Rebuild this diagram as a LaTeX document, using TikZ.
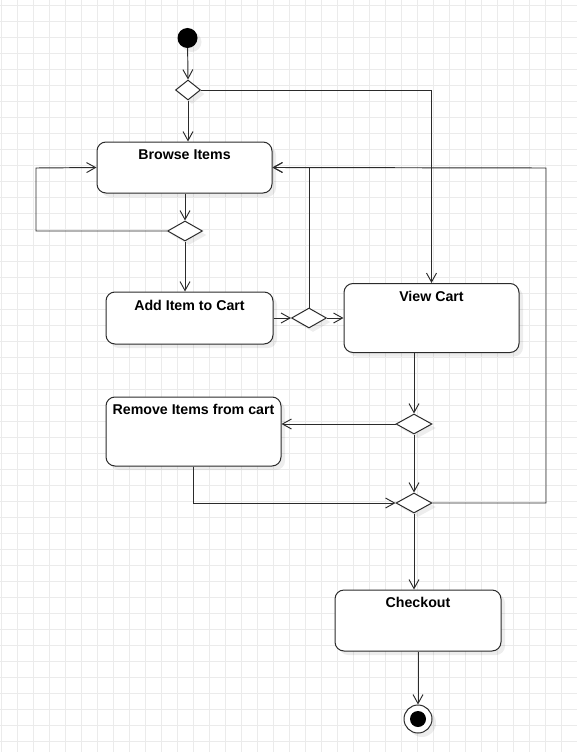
\documentclass[tikz,border=0pt]{standalone}
\usepackage{fontspec}
\setmainfont{Liberation Sans}
\usetikzlibrary{arrows.meta,calc,positioning,shapes.geometric,shadows}
\definecolor{GridGray}{HTML}{EBEBEB}
\definecolor{Ink}{HTML}{2B2B2B}

\begin{document}
\begin{tikzpicture}[x=1pt,y=-1pt,
        softshadow/.style={drop shadow={shadow xshift=4pt,shadow yshift=-4pt,fill=black,opacity=0.07}},
        activity/.style={draw=Ink,line width=1pt,fill=white,rounded corners=9pt,softshadow,
                         inner sep=0pt},
        acttitle/.style={font=\fontsize{14.2}{16}\selectfont\bfseries,text=black,inner sep=0pt,
                         text height=10pt,text depth=3pt},
        branch/.style={diamond,draw=Ink,line width=1pt,fill=white,inner sep=0pt,softshadow},
        flow/.style={-{Straight Barb[length=9pt,width=10pt]},draw=Ink,line width=0.95pt},
        gridline/.style={draw=GridGray,line width=0.9pt}]
      \useasboundingbox (0,0) rectangle (577,752);
      \fill[white] (0,0) rectangle (577,752);
      \foreach \gx in {1,17,...,577} \draw[gridline] (\gx,0) -- (\gx,752);
      \foreach \gy in {5.3,21.3,...,752} \draw[gridline] (0,\gy) -- (577,\gy);

      \node[circle,fill=black,minimum size=20pt,inner sep=0pt,softshadow] (start) at (187.5,38) {};
      \node[branch,minimum width=25pt,minimum height=20pt] (d1) at (188,90) {};
      \node[activity,minimum width=175pt,minimum height=51pt] (browse) at (184.5,167.5) {};
      \node[acttitle,below=8pt of browse.north] (browsetitle) {Browse Items};
      \node[branch,minimum width=35pt,minimum height=20pt] (d2) at (185,231) {};
      \node[activity,minimum width=167pt,minimum height=52pt] (add) at (189.5,318) {};
      \node[acttitle,below=8.5pt of add.north] (addtitle) {Add Item to Cart};
      \node[branch,minimum width=35pt,minimum height=20pt] (d3) at (309,318) {};
      \node[activity,minimum width=175pt,minimum height=69pt] (view) at (431.5,318) {};
      \node[acttitle,below=8pt of view.north] (viewtitle) {View Cart};
      \node[branch,minimum width=36pt,minimum height=20pt] (d4) at (414,424) {};
      \node[activity,minimum width=175pt,minimum height=69pt] (remove) at (193.5,431.5) {};
      \node[acttitle,below=8pt of remove.north] (removetitle) {Remove Items from cart};
      \node[branch,minimum width=36pt,minimum height=20pt] (d5) at (414,503) {};
      \node[activity,minimum width=166pt,minimum height=61pt] (checkout) at (418,620.5) {};
      \node[acttitle,below=8pt of checkout.north] (checkouttitle) {Checkout};
      \node[circle,draw=Ink,line width=1pt,fill=white,minimum size=28pt,inner sep=0pt,softshadow] (finish) at (418,719) {};
      \node[circle,fill=black,minimum size=16pt,inner sep=0pt] (finishdot) at (finish) {};

      \coordinate (loopL) at (36,168);
      \coordinate (loopR) at (546,168);

      \draw[flow] (start) -- (d1.north);
      \draw[flow] (d1.south) -- (d1 |- browse.north);
      \draw[flow] (d1.east) -| (view.north);
      \draw[flow] (d2 |- browse.south) -- (d2.north);
      \draw[flow] (d2.west) -| (loopL) -- (browse.west);
      \draw[flow] (d2.south) -- (d2 |- add.north);
      \draw[flow] (add.east) -- (d3.west);
      \draw[flow] (d3.east) -- (view.west);
      \draw[flow] (d3.north) |- (browse.east);
      \draw[flow] (d4 |- view.south) -- (d4.north);
      \draw[flow] (d4.west) -- (d4 -| remove.east);
      \draw[flow] (d4.south) -- (d5.north);
      \draw[flow] (remove.south) |- (d5.west);
      \draw[flow] (d5.east) -| (loopR) -- (browse.east);
      \draw[flow] (d5.south) -- (d5 |- checkout.north);
      \draw[flow] (checkout.south) -- (finish.north);
    \end{tikzpicture}
\end{document}
